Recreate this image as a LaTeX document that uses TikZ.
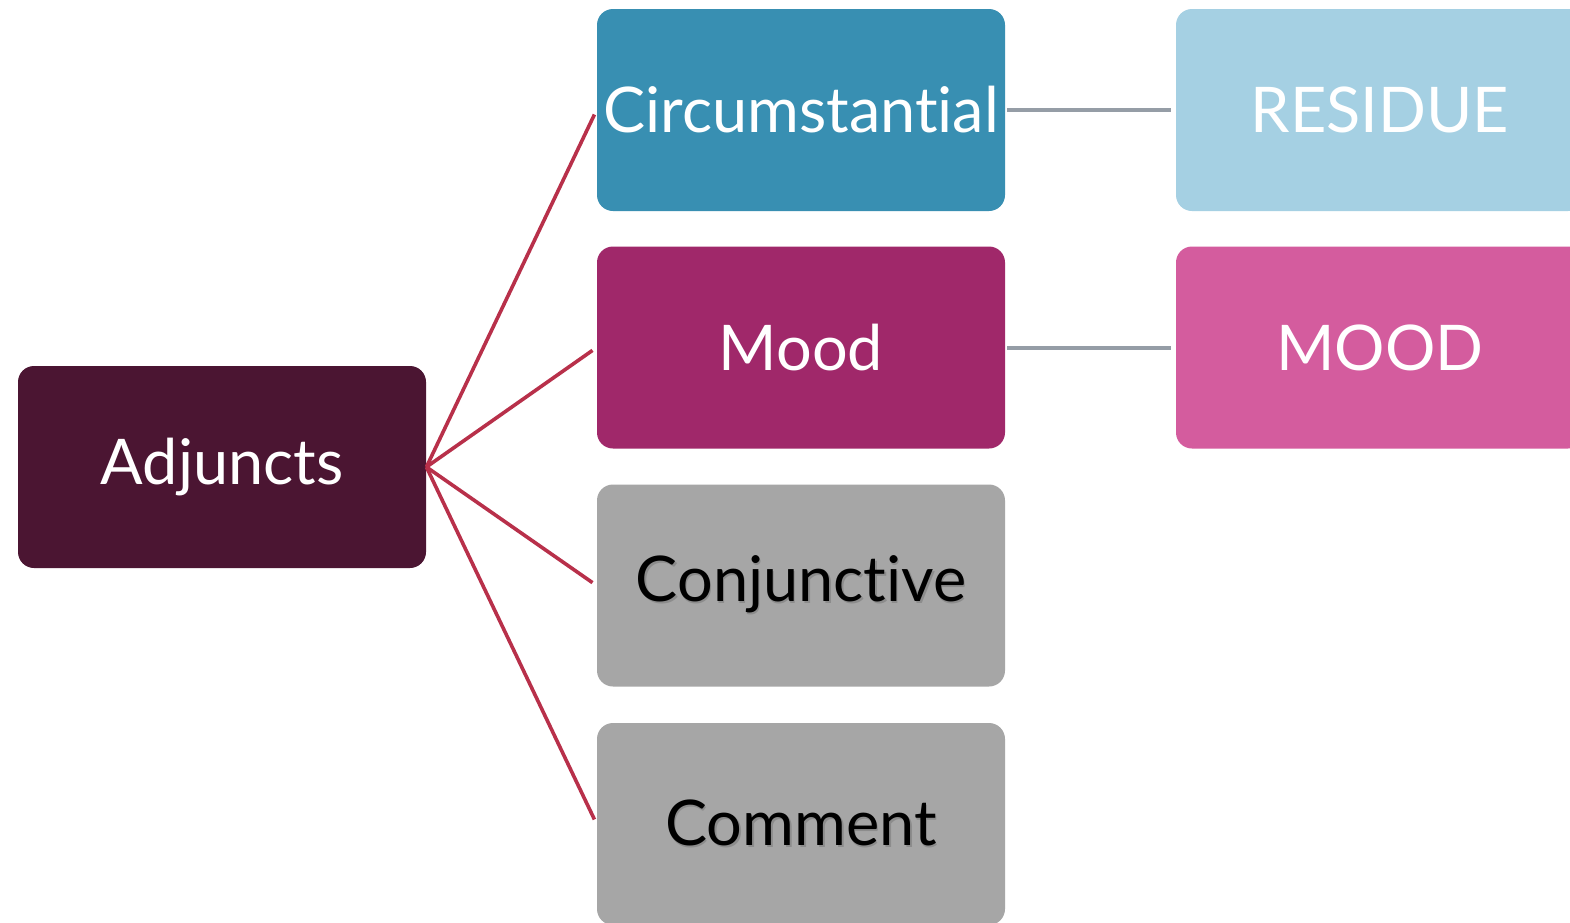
\documentclass[tikz,border=0pt]{standalone}
\usepackage{fontspec}
\setmainfont{Lato}[Ligatures={NoCommon,NoRare}]
\definecolor{adjc}{HTML}{4B1532}
\definecolor{circc}{HTML}{388FB2}
\definecolor{moodc}{HTML}{A0286A}
\definecolor{grayc}{HTML}{A6A6A6}
\definecolor{resc}{HTML}{A5D0E3}
\definecolor{moodcapc}{HTML}{D45C9E}
\definecolor{redline}{HTML}{B8304A}
\definecolor{grayline}{HTML}{959DA6}
\newcommand{\shadowtxt}[1]{\makebox[0pt][l]{\hspace{0.8pt}\raisebox{-0.8pt}{\color{black!45}#1}}#1}
\begin{document}
\begin{tikzpicture}[x=0.5pt,y=-0.5pt,
  box/.style={rectangle,rounded corners=8pt,minimum width=204pt,minimum height=101pt,inner sep=0pt,font=\fontsize{31.5}{38}\selectfont},
  wbox/.style={box,text=white},
  kbox/.style={box,text=black},
  redconn/.style={draw=redline,line width=1.8pt,shorten >=2.5pt},
  grayconn/.style={draw=grayline,line width=2pt,shorten >=2.5pt,shorten <=1pt}]
\useasboundingbox (0,0) rectangle (1570,922);
\fill[white] (0,0) rectangle (1570,922);
\clip (0,0) rectangle (1570,922);
\node[wbox,fill=adjc] (adj) at (222,467) {Adjuncts};
\node[wbox,fill=circc] (circ) at (801,110) {Circumstantial};
\node[wbox,fill=moodc] (mood) at (801,347.5) {Mood};
\node[kbox,fill=grayc] (conj) at (801,585.5) {\shadowtxt{Conjunctive}};
\node[kbox,fill=grayc] (comm) at (801,824) {\shadowtxt{Comment}};
\node[wbox,fill=resc] (res) at (1380,110) {RESIDUE};
\node[wbox,fill=moodcapc] (moodcap) at (1380,347.5) {MOOD};
\draw[redconn] (adj.east) -- (circ.west);
\draw[redconn] (adj.east) -- (mood.west);
\draw[redconn] (adj.east) -- (conj.west);
\draw[redconn] (adj.east) -- (comm.west);
\draw[grayconn] (circ.east) -- (res.west);
\draw[grayconn] (mood.east) -- (moodcap.west);
\end{tikzpicture}
\end{document}
